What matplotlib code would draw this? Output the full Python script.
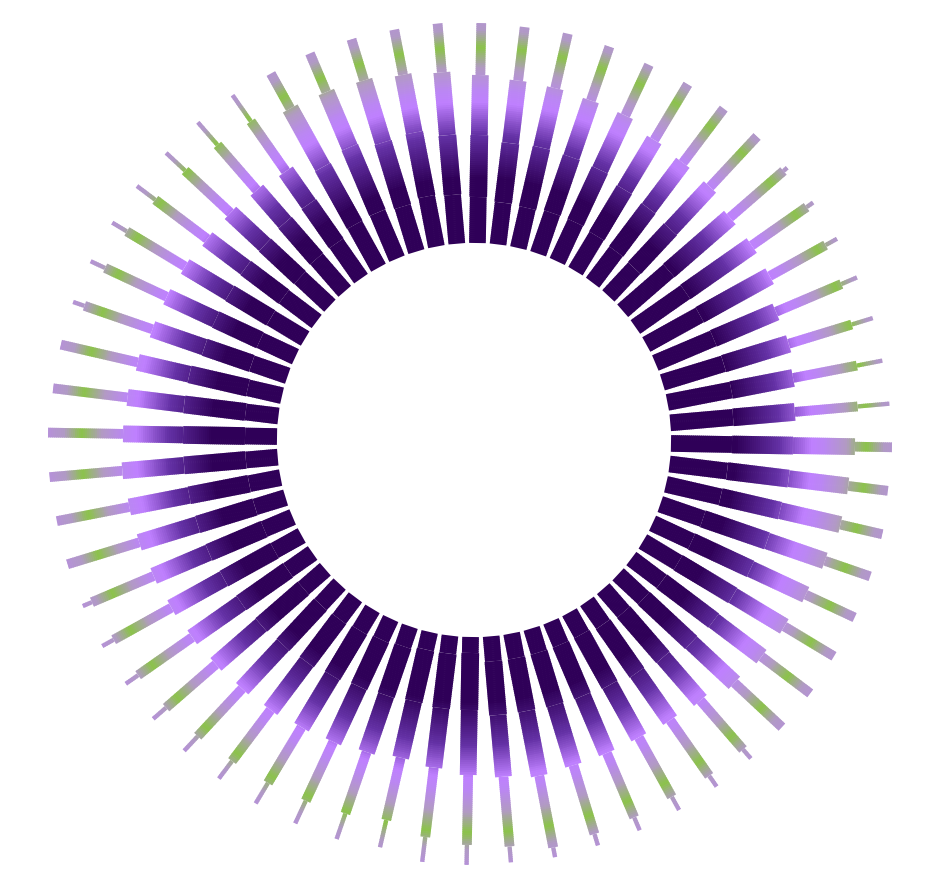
import numpy as np
import matplotlib
matplotlib.use("Agg")
import matplotlib.pyplot as plt
from matplotlib.collections import LineCollection
from matplotlib.colors import LinearSegmentedColormap, Normalize

# 60 spokes, clockwise from the top; radii of the step boundaries (data units)
angles = 89 - 6 * np.arange(60)
r_inner = 197
b1 = [243, 239, 238, 240, 240, 238, 236, 235, 258, 258, 258, 260, 261, 262, 260,
      258, 255, 253, 242, 240, 238, 235, 232, 228, 225, 222, 222, 222, 222, 222,
      213, 215, 215, 218, 220, 222, 224, 225, 226, 227, 228, 228, 229, 229, 229,
      229, 230, 232, 235, 236, 237, 238, 238, 240, 240, 246, 247, 244, 248, 246]
b2 = [305, 299, 300, 299, 298, 292, 290, 288, 339, 339, 338, 328, 329, 325, 322,
      319, 317, 314, 310, 305, 302, 300, 297, 288, 284, 280, 278, 277, 276, 276,
      270, 270, 268, 270, 272, 275, 278, 280, 282, 284, 286, 288, 289, 290, 291,
      291, 292, 292, 285, 285, 285, 286, 286, 288, 288, 312, 318, 311, 313, 306]
b3 = [365, 362, 361, 359, 358, 350, 347, 346, 339, 339, 338, 328, 329, 325, 322,
      381, 377, 376, 371, 366, 362, 360, 356, 345, 342, 340, 340, 340, 342, 338,
      335, 330, 326, 330, 333, 335, 338, 340, 342, 344, 346, 348, 350, 351, 353,
      351, 349, 345, 340, 339, 337, 334, 333, 331, 328, 379, 378, 376, 372, 369]
b4 = [417, 416, 417, 416, 414, 415, 415, 415, 410, 406, 402, 399, 395, 390, 385,
      418, 417, 419, 419, 420, 420, 421, 421, 410, 410, 408, 410, 412, 415, 408,
      405, 400, 390, 395, 398, 400, 402, 405, 408, 410, 412, 415, 425, 425, 426,
      426, 424, 424, 412, 407, 405, 399, 395, 391, 389, 419, 420, 419, 418, 418]
tip = [417, 416, 417, 416, 414, 415, 415, 415, 415, 414, 415, 416, 417, 416, 417,
       418, 417, 419, 419, 420, 420, 421, 421, 422, 423, 423, 424, 424, 425, 424,
       425, 425, 418, 422, 423, 424, 424, 425, 425, 425, 425, 425, 425, 425, 426,
       426, 424, 424, 424, 423, 422, 422, 421, 421, 421, 419, 420, 419, 418, 418]
seg_widths = [16.7, 17.7, 16.7, 9.7, 4.3]  # px

stops = [(197, "#2f0058"), (262, "#2f0058"), (305, "#6330a4"), (338, "#bf80ff"),
         (350, "#bb86f4"), (372, "#b29ac4"), (393, "#8bc34a"), (410, "#b09ac4"),
         (432, "#b88ee0")]
lo, hi = stops[0][0], stops[-1][0]
cmap = LinearSegmentedColormap.from_list(
    "spokes", [((r - lo) / (hi - lo), c) for r, c in stops])
norm = Normalize(lo, hi)

fig = plt.figure(figsize=(9.4, 8.92), dpi=100)
ax = fig.add_axes([34 / 940, 12 / 892, 880 / 940, 880 / 892], projection="polar")
ax.set_ylim(0, 440)
ax.set_axis_off()

segs, cols, lws = [], [], []
step = 2.0
for k in range(len(angles)):
    th = np.deg2rad(angles[k])
    bounds = [r_inner, b1[k], b2[k], b3[k], b4[k], tip[k]]
    for i in range(5):
        r0, r1 = bounds[i], bounds[i + 1]
        if r1 <= r0:
            continue
        edges = np.append(np.arange(r0, r1, step), r1)
        for a, b in zip(edges[:-1], edges[1:]):
            segs.append([(th, a), (th, min(b + 0.7, r1))])
            cols.append(cmap(norm((a + b) / 2)))
            lws.append(seg_widths[i] * 72 / 100)

lc = LineCollection(segs, colors=cols, linewidths=lws, capstyle="butt")
ax.add_collection(lc)

fig.savefig("out.png", dpi=100)
